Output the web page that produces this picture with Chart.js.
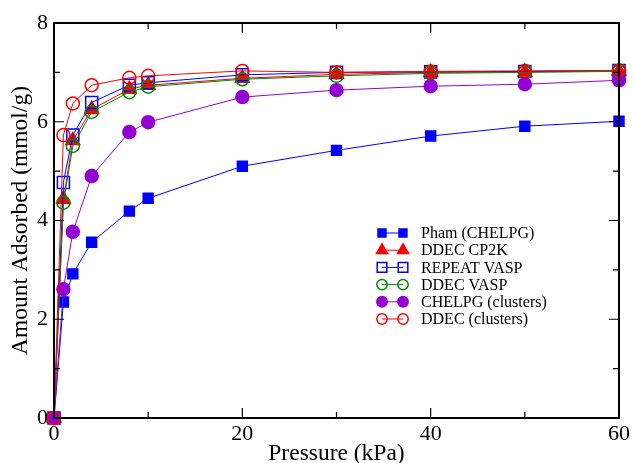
<!DOCTYPE html>
<html>
<head>
<meta charset="utf-8">
<script src="https://cdn.jsdelivr.net/npm/chart.js@4.4.1/dist/chart.umd.min.js"></script>
<style>
  html, body { margin: 0; padding: 0; background: #fff; }
  #wrap { width: 633px; height: 463px; }
</style>
</head>
<body>
<div id="wrap"><canvas id="grafica"></canvas></div>
<script>
// ---- datos (kPa vs mmol/g) ----
const presion = [0, 1, 2, 4, 8, 10, 20, 30, 40, 50, 60];

const phamChelpg   = [0, 2.35, 2.92, 3.56, 4.19, 4.45, 5.10, 5.42, 5.71, 5.91, 6.01];
const ddecCp2k     = [0, 4.43, 5.62, 6.25, 6.66, 6.74, 6.88, 6.96, 7.00, 7.01, 7.03];
const repeatVasp   = [0, 4.77, 5.73, 6.39, 6.74, 6.79, 6.95, 7.00, 7.01, 7.02, 7.04];
const ddecVasp     = [0, 4.36, 5.51, 6.20, 6.60, 6.71, 6.86, 6.93, 6.98, 7.00, 7.02];
const chelpgClust  = [0, 2.61, 3.77, 4.90, 5.79, 5.99, 6.50, 6.64, 6.72, 6.76, 6.84];
const ddecClust    = [0, 5.73, 6.37, 6.74, 6.89, 6.93, 7.03, 7.00, 7.02, 7.03, 7.04];

const etiquetas = ['Pham (CHELPG)', 'DDEC CP2K', 'REPEAT VASP', 'DDEC VASP', 'CHELPG (clusters)', 'DDEC (clusters)'];

const AZUL = '#0000ff', ROJO = '#ff0000', VERDE = '#008c00', VIOLETA = '#9400d3';
const FUENTE = '"Liberation Serif", "DejaVu Serif", serif';

// estilo de cada serie
const estilos = [
    { color: AZUL,    marca: 'rect',     lleno: true,  r: 7 },
    { color: ROJO,    marca: 'triangle', lleno: true,  r: 8 },
    { color: AZUL,    marca: 'rect',     lleno: false, r: 8.5 },
    { color: VERDE,   marca: 'circle',   lleno: false, r: 6.5 },
    { color: VIOLETA, marca: 'circle',   lleno: true,  r: 6.5 },
    { color: ROJO,    marca: 'circle',   lleno: false, r: 6.5 }
];
const series = [phamChelpg, ddecCp2k, repeatVasp, ddecVasp, chelpgClust, ddecClust];

const datasets = series.map((valores, i) => {
    const e = estilos[i];
    return {
        label: etiquetas[i],
        data: valores.map((v, k) => ({ x: presion[k], y: v })),
        borderColor: e.color,
        borderWidth: 1,
        pointStyle: e.marca,
        pointRadius: e.r,
        pointHoverRadius: e.r,
        pointBorderWidth: 1.5,
        pointBorderColor: e.color,
        pointBackgroundColor: e.lleno ? e.color : 'rgba(0,0,0,0)',
        tension: 0,
        clip: false,
        order: series.length - i
    };
});

// ---- marcador propio para la leyenda ----
function dibujarMarca(ctx, e, x, y) {
    ctx.save();
    ctx.strokeStyle = e.color;
    ctx.fillStyle = e.color;
    ctx.lineWidth = 1.5;
    ctx.beginPath();
    if (e.marca === 'rect') {
        const s = Math.SQRT1_2 * e.r;
        ctx.rect(x - s, y - s, 2 * s, 2 * s);
    } else if (e.marca === 'triangle') {
        const r = e.r;
        ctx.moveTo(x, y - r);
        ctx.lineTo(x + r * 0.866, y + r * 0.5);
        ctx.lineTo(x - r * 0.866, y + r * 0.5);
        ctx.closePath();
    } else {
        ctx.arc(x, y, e.r, 0, Math.PI * 2);
    }
    if (e.lleno) ctx.fill();
    ctx.stroke();
    ctx.restore();
}

// ---- marco, ticks hacia dentro y leyenda ----
const marcoPlugin = {
    id: 'marco',
    afterDraw(chart) {
        const { ctx, chartArea: a, scales: { x, y } } = chart;
        ctx.save();
        ctx.strokeStyle = '#000';
        ctx.lineWidth = 1.2;
        ctx.beginPath();
        for (let v = 0; v <= 60; v += 10) {
            const px = x.getPixelForValue(v);
            const L = v % 20 === 0 ? 10 : 6;
            ctx.moveTo(px, a.bottom); ctx.lineTo(px, a.bottom - L);
            ctx.moveTo(px, a.top); ctx.lineTo(px, a.top + L);
        }
        for (let v = 0; v <= 8; v += 1) {
            const py = y.getPixelForValue(v);
            const L = v % 2 === 0 ? 10 : 6;
            ctx.moveTo(a.left, py); ctx.lineTo(a.left + L, py);
            ctx.moveTo(a.right, py); ctx.lineTo(a.right - L, py);
        }
        ctx.stroke();
        ctx.lineWidth = 2;
        ctx.strokeRect(a.left, a.top, a.right - a.left, a.bottom - a.top);

        // leyenda
        const x0 = 382, x1 = 403, xt = 421;
        let yy = 233;
        ctx.font = '16px ' + FUENTE;
        ctx.textBaseline = 'middle';
        ctx.textAlign = 'left';
        estilos.forEach((e, i) => {
            ctx.strokeStyle = e.color;
            ctx.lineWidth = 1;
            ctx.beginPath();
            ctx.moveTo(x0, yy); ctx.lineTo(x1, yy);
            ctx.stroke();
            const em = Object.assign({}, e, { r: e.r * 0.8 });
            dibujarMarca(ctx, em, x0, yy);
            dibujarMarca(ctx, em, x1, yy);
            ctx.fillStyle = '#000';
            ctx.fillText(etiquetas[i], xt, yy + 1);
            yy += 17.2;
        });
        ctx.restore();
    }
};

new Chart(document.getElementById('grafica').getContext('2d'), {
    type: 'line',
    data: { datasets },
    options: {
        responsive: true,
        maintainAspectRatio: false,
        animation: false,
        events: [],
        layout: { padding: { top: 23, right: 12, left: 0, bottom: 0 } },
        scales: {
            x: {
                type: 'linear',
                min: 0, max: 60,
                afterFit: s => { s.height = 45; },
                ticks: { stepSize: 20, color: '#000', padding: 3, font: { family: FUENTE, size: 22 } },
                grid: { display: false, drawTicks: false },
                border: { display: false },
                title: { display: true, text: 'Pressure (kPa)', color: '#000', padding: { top: 0, bottom: -3 }, font: { family: FUENTE, size: 23.5, lineHeight: 1 } }
            },
            y: {
                min: 0, max: 8,
                afterFit: s => { s.width = 54; },
                ticks: { stepSize: 2, color: '#000', padding: 6, font: { family: FUENTE, size: 22 } },
                grid: { display: false, drawTicks: false },
                border: { display: false },
                title: { display: true, text: 'Amount Adsorbed (mmol/g)', color: '#000', padding: { top: 9, bottom: 0 }, font: { family: FUENTE, size: 23.5, lineHeight: 1 } }
            }
        },
        plugins: {
            legend: { display: false },
            tooltip: { enabled: false }
        }
    },
    plugins: [marcoPlugin]
});
</script>
</body>
</html>
